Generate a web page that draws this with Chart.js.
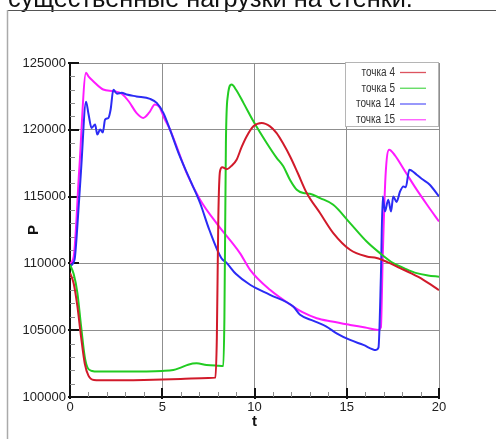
<!DOCTYPE html>
<html>
<head>
<meta charset="utf-8">
<script src="https://cdn.jsdelivr.net/npm/chart.js@4"></script>
<style>
  html, body { margin: 0; padding: 0; background: #fff; overflow: hidden; }
  #wrap { position: relative; width: 496px; height: 439px; }
  canvas { display: block; }
</style>
</head>
<body>
<div id="wrap"><canvas id="c" width="496" height="439"></canvas></div>
<script>
// Pressure histories at four monitoring points
const seriesNames = ['точка 4', 'точка 5', 'точка 14', 'точка 15'];
const seriesColors = ['#d11a2a', '#22cc22', '#2b2bf5', '#ff1aff'];

const xTicks = [0, 5, 10, 15, 20];
const yTicks = [100000, 105000, 110000, 115000, 120000, 125000];
const xMinorStep = 1;
const yMinorStep = 1000;

const t4 = [0, 0.2, 0.4, 0.6, 0.8, 1.0, 1.3, 2, 4, 6, 7.5, 7.88, 7.96, 8.04, 8.13, 8.25, 8.5, 8.75, 9.03, 9.3, 9.58, 9.94, 10.39, 10.84, 11.2, 11.56, 11.95, 12.35, 12.83, 13.55, 14.27, 15.18, 16.08, 16.62, 17.2, 17.89, 18.5, 19.15, 20];
const p4 = [109300, 108500, 106800, 104500, 102500, 101600, 101280, 101250, 101280, 101350, 101420, 101450, 104500, 113500, 116900, 117200, 117050, 117300, 117765, 118700, 119515, 120260, 120515, 120260, 119750, 118950, 117950, 116750, 115270, 113770, 112270, 111020, 110517, 110400, 110100, 109650, 109250, 108770, 108000];

const t5 = [0, 0.2, 0.4, 0.6, 0.8, 0.95, 1.2, 1.5, 3, 5, 5.6, 6.0, 6.4, 6.86, 7.4, 8.0, 8.31, 8.37, 8.45, 8.55, 8.76, 9.0, 9.4, 9.94, 10.66, 11.2, 11.56, 11.92, 12.29, 12.65, 13.0, 13.55, 14.27, 15.18, 16.08, 16.8, 17.52, 18.1, 18.79, 19.4, 20];
const p5 = [109900, 109200, 107800, 105300, 103000, 102200, 101950, 101900, 101900, 101950, 102020, 102200, 102420, 102520, 102400, 102340, 102320, 106000, 119000, 122500, 123390, 123000, 122016, 120640, 119016, 117900, 117265, 116266, 115517, 115270, 115217, 114890, 114390, 113020, 111640, 110770, 110020, 109650, 109270, 109100, 109000];

const t14 = [0, 0.25, 0.36, 0.6, 0.87, 1.0, 1.17, 1.36, 1.48, 1.63, 1.78, 1.9, 2.08, 2.2, 2.35, 2.55, 2.8, 3.07, 3.6, 4.34, 4.7, 5.06, 5.42, 5.9, 6.5, 7.05, 7.55, 8.2, 8.5, 9.0, 9.76, 10.84, 12.1, 12.47, 13.2, 13.9, 14.45, 15.18, 15.9, 16.58, 16.72, 16.85, 16.95, 17.07, 17.25, 17.4, 17.52, 17.7, 17.89, 18.07, 18.2, 18.39, 18.79, 19.1, 19.5, 20];
const p14 = [109800, 110300, 112000, 117000, 122100, 121200, 120140, 120390, 119640, 120014, 119800, 120765, 120890, 121500, 123000, 122700, 122765, 122640, 122500, 122316, 122016, 121266, 120014, 118200, 116266, 114520, 112520, 110400, 110020, 109200, 108400, 107650, 106770, 106150, 105700, 105270, 104770, 104270, 103900, 103520, 103700, 109000, 115015, 113890, 114770, 113890, 115015, 114600, 115390, 115765, 115700, 117016, 116640, 116300, 115890, 115015];

const t15 = [0, 0.2, 0.5, 0.87, 1.0, 1.26, 1.8, 2.35, 2.8, 3.2, 3.6, 3.97, 4.3, 4.6, 4.85, 5.1, 5.42, 5.9, 6.32, 7.05, 8.0, 9.21, 9.76, 10.84, 12.1, 12.6, 13.37, 14.2, 15.18, 16.0, 16.71, 16.85, 16.95, 17.1, 17.3, 17.6, 18.2, 18.8, 19.4, 20];
const p15 = [110000, 110500, 117000, 124265, 124000, 123640, 123015, 122886, 122700, 122100, 121266, 120890, 121300, 121890, 121700, 120900, 120014, 118300, 116770, 114767, 112900, 110772, 109520, 108020, 106769, 106350, 105900, 105650, 105397, 105200, 105022, 105200, 110500, 116500, 118515, 118100, 116800, 115500, 114300, 113140];

const seriesT = [t4, t5, t14, t15];
const seriesP = [p4, p5, p14, p15];

const FONT = '"Liberation Sans", Arial, sans-serif';

// page frame and the caption line above it
const pageDecor = {
  id: 'pageDecor',
  beforeDraw(chart) {
    const ctx = chart.ctx;
    ctx.save();
    ctx.fillStyle = '#fff';
    ctx.fillRect(0, 0, chart.width, chart.height);
    // caption, partly cut off by the top edge
    const tail = 'существенные нагрузки на стенки.';
    ctx.font = '28px ' + FONT;
    const w = ctx.measureText(tail).width;
    const size = 28 * 405 / w;
    ctx.font = size + 'px ' + FONT;
    const lead = ctx.measureText('и ').width;
    ctx.fillStyle = '#111';
    ctx.textBaseline = 'alphabetic';
    ctx.fillText('и ' + tail, 8 - lead, 7);
    // frame
    ctx.strokeStyle = '#555';
    ctx.lineWidth = 1;
    ctx.beginPath(); ctx.moveTo(7, 10.5); ctx.lineTo(chart.width, 10.5); ctx.stroke();
    ctx.strokeStyle = '#aaa';
    ctx.lineWidth = 1.5;
    ctx.beginPath(); ctx.moveTo(7.5, 10); ctx.lineTo(7.5, chart.height); ctx.stroke();
    ctx.restore();
  }
};

// tick marks pointing into the plot area
const inwardTicks = {
  id: 'inwardTicks',
  beforeDatasetsDraw(chart) {
    const { ctx, chartArea: a, scales: { x, y } } = chart;
    ctx.save();
    ctx.strokeStyle = '#8c8c8c';
    ctx.lineWidth = 1;
    for (let v = x.min; v <= x.max + 1e-9; v += xMinorStep) {
      const px = Math.round(x.getPixelForValue(v)) + 0.5;
      ctx.beginPath(); ctx.moveTo(px, a.bottom); ctx.lineTo(px, a.bottom - 5); ctx.stroke();
    }
    for (let v = y.min; v <= y.max + 1e-9; v += yMinorStep) {
      const py = Math.round(y.getPixelForValue(v)) + 0.5;
      ctx.beginPath(); ctx.moveTo(a.left, py); ctx.lineTo(a.left + 5, py); ctx.stroke();
    }
    ctx.strokeStyle = '#111';
    ctx.lineWidth = 2;
    xTicks.forEach(v => {
      const px = Math.round(x.getPixelForValue(v));
      ctx.beginPath(); ctx.moveTo(px, a.bottom + 2); ctx.lineTo(px, a.bottom - 9); ctx.stroke();
    });
    yTicks.forEach(v => {
      const py = Math.round(y.getPixelForValue(v));
      ctx.beginPath(); ctx.moveTo(a.left - 2, py); ctx.lineTo(a.left + 9, py); ctx.stroke();
    });
    ctx.restore();
  }
};

// boxed legend in the upper right corner: condensed label, then line sample
const boxLegend = {
  id: 'boxLegend',
  afterDatasetsDraw(chart) {
    const { ctx, chartArea: a } = chart;
    const right = a.right, top = a.top - 1, width = 94, height = 65;
    const squeeze = 0.8;
    ctx.save();
    ctx.fillStyle = '#fff';
    ctx.fillRect(right - width, top, width, height);
    ctx.strokeStyle = '#b5b5b5';
    ctx.lineWidth = 1;
    ctx.strokeRect(right - width + 0.5, top + 0.5, width - 1, height - 1);
    chart.data.datasets.forEach((ds, i) => {
      const cy = top + 10.5 + i * 15.75;
      ctx.save();
      ctx.translate(right - 44, cy);
      ctx.scale(squeeze, 1);
      ctx.font = '12.5px ' + FONT;
      ctx.textAlign = 'right';
      ctx.textBaseline = 'middle';
      ctx.fillStyle = '#333';
      ctx.fillText(ds.label, 0, 0);
      ctx.restore();
      ctx.strokeStyle = ds.borderColor;
      ctx.globalAlpha = 0.75;
      ctx.lineWidth = 1.3;
      ctx.beginPath(); ctx.moveTo(right - 39, cy); ctx.lineTo(right - 13, cy); ctx.stroke();
      ctx.globalAlpha = 1;
    });
    ctx.restore();
  }
};

const datasets = seriesNames.map((name, i) => ({
  label: name,
  data: seriesT[i].map((t, k) => ({ x: t, y: seriesP[i][k] })),
  borderColor: seriesColors[i],
  backgroundColor: seriesColors[i],
  borderWidth: 2,
  pointRadius: 0,
  fill: false,
  cubicInterpolationMode: 'monotone'
}));

new Chart(document.getElementById('c'), {
  type: 'line',
  data: { datasets },
  plugins: [pageDecor, inwardTicks, boxLegend],
  options: {
    responsive: false,
    animation: false,
    devicePixelRatio: 1,
    layout: { padding: { top: 63, right: 57, left: 0, bottom: 0 } },
    plugins: { legend: { display: false }, tooltip: { enabled: false } },
    scales: {
      x: {
        type: 'linear',
        min: 0, max: 20,
        afterFit: s => { s.height = 42; },
        afterBuildTicks: s => { s.ticks = xTicks.map(v => ({ value: v })); },
        ticks: { color: '#222', font: { family: FONT, size: 13 }, padding: 3, callback: v => String(v), maxRotation: 0 },
        grid: { color: '#8f8f8f', lineWidth: 1, drawTicks: false },
        border: { display: true, color: '#111', width: 2 },
        title: { display: true, text: 't', color: '#111', font: { family: FONT, size: 15, weight: 'bold' }, padding: { top: 0, bottom: 8 } }
      },
      y: {
        type: 'linear',
        min: 100000, max: 125000,
        afterFit: s => { s.width = 70; },
        afterBuildTicks: s => { s.ticks = yTicks.map(v => ({ value: v })); },
        ticks: { color: '#222', font: { family: FONT, size: 13 }, padding: 4, callback: v => String(v) },
        grid: { color: '#8f8f8f', lineWidth: 1, drawTicks: false },
        border: { display: true, color: '#111', width: 2 },
        title: { display: true, text: 'P', color: '#111', font: { family: FONT, size: 15, weight: 'bold' }, padding: { top: 25, bottom: 0 } }
      }
    }
  }
});
</script>
</body>
</html>
